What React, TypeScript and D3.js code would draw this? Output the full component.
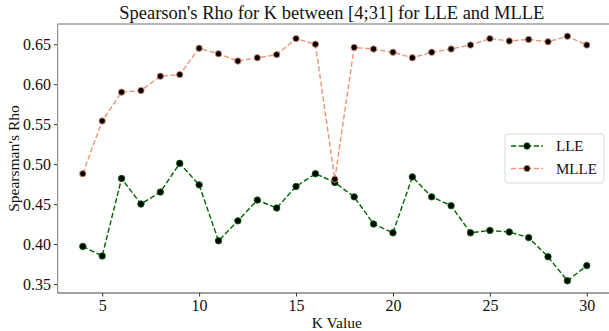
import React, {useEffect, useRef} from "react";
import * as d3 from "d3";

const kValues = [4, 5, 6, 7, 8, 9, 10, 11, 12, 13, 14, 15, 16, 17, 18, 19, 20, 21, 22, 23, 24, 25, 26, 27, 28, 29, 30];
const lleRho = [0.397, 0.385, 0.482, 0.450, 0.465, 0.501, 0.474, 0.404, 0.429, 0.455, 0.445, 0.472, 0.488, 0.477,
    0.459, 0.425, 0.414, 0.484, 0.459, 0.448, 0.414, 0.417, 0.415, 0.408, 0.384, 0.354, 0.373];
const mlleRho = [0.488, 0.554, 0.590, 0.592, 0.610, 0.612, 0.645, 0.638, 0.629, 0.633, 0.637, 0.657, 0.650, 0.481,
    0.646, 0.644, 0.640, 0.633, 0.640, 0.644, 0.649, 0.657, 0.654, 0.656, 0.653, 0.660, 0.649];
const xTicks = [5, 10, 15, 20, 25, 30];
const yTicks = [0.35, 0.40, 0.45, 0.50, 0.55, 0.60, 0.65];
const seriesNames = ["LLE", "MLLE"];
const seriesColors = ["#006400", "#e9967a"];

const FONT = "Liberation Serif";

function draw(node: SVGSVGElement){
    const svg = d3.select(node);
    svg.selectChildren().remove();
    svg.attr("font-family", FONT);

    const left = 57.6, right = 612, top = 24, bottom = 293;

    // matplotlib style 5% margins
    const xpad = (d3.max(kValues)! - d3.min(kValues)!) * 0.05;
    const allY = lleRho.concat(mlleRho);
    const ypad = (d3.max(allY)! - d3.min(allY)!) * 0.05;
    const x = d3.scaleLinear().domain([d3.min(kValues)! - xpad, d3.max(kValues)! + xpad]).range([left, right]);
    const y = d3.scaleLinear().domain([d3.min(allY)! - ypad, d3.max(allY)! + ypad]).range([bottom, top]);

    // title
    svg.append("text")
        .attr("x", (left + right) / 2 - 3)
        .attr("y", 19)
        .attr("text-anchor", "middle")
        .attr("font-size", 18.5)
        .attr("fill", "#111")
        .text("Spearson's Rho for K between [4;31] for LLE and MLLE");

    // x axis
    const xAxis = svg.append("g").attr("transform", `translate(0,${bottom})`)
        .call(d3.axisBottom(x).tickValues(xTicks).tickSize(3.5).tickPadding(3).tickFormat(d3.format("d")))
        .attr("font-family", FONT).attr("font-size", 16);
    xAxis.select(".domain").remove();
    xAxis.selectAll("line").attr("stroke", "#333");
    xAxis.selectAll("text").attr("fill", "#111");

    // y axis
    const yAxis = svg.append("g").attr("transform", `translate(${left},0)`)
        .call(d3.axisLeft(y).tickValues(yTicks).tickSize(3.5).tickPadding(3).tickFormat(d3.format(".2f")))
        .attr("font-family", FONT).attr("font-size", 16);
    yAxis.select(".domain").remove();
    yAxis.selectAll("line").attr("stroke", "#333");
    yAxis.selectAll("text").attr("fill", "#111");

    // spines
    svg.append("line").attr("x1", left).attr("x2", right).attr("y1", top).attr("y2", top)
        .attr("stroke", "#a0a0a0").attr("stroke-width", 1.5);
    svg.append("line").attr("x1", left).attr("x2", left).attr("y1", top).attr("y2", bottom)
        .attr("stroke", "#909090").attr("stroke-width", 1.2);
    svg.append("line").attr("x1", left).attr("x2", right).attr("y1", bottom).attr("y2", bottom)
        .attr("stroke", "#444").attr("stroke-width", 1.2);

    // axis labels
    svg.append("text")
        .attr("x", (left + right) / 2 + 2)
        .attr("y", 328)
        .attr("text-anchor", "middle")
        .attr("font-size", 15.5).attr("fill", "#111")
        .text("K Value");
    svg.append("text")
        .attr("transform", `translate(19,${(top + bottom) / 2}) rotate(-90)`)
        .attr("text-anchor", "middle")
        .attr("font-size", 15.5).attr("fill", "#111")
        .text("Spearsman's Rho");

    const line = d3.line<number>()
        .x((d, i) => x(kValues[i]))
        .y(d => y(d));

    [lleRho, mlleRho].forEach((vals, s) => {
        const g = svg.append("g");
        g.append("path")
            .attr("d", line(vals))
            .attr("fill", "none")
            .attr("stroke", seriesColors[s])
            .attr("stroke-width", 1.4)
            .attr("stroke-dasharray", "5.2,2.4");
        g.selectAll("circle")
            .data(vals)
            .enter()
                .append("circle")
                    .attr("cx", (d, i) => x(kValues[i]))
                    .attr("cy", d => y(d))
                    .attr("r", 3.2)
                    .attr("fill", "black")
                    .attr("stroke", seriesColors[s])
                    .attr("stroke-width", 0.9);
    });

    // legend
    const lg = svg.append("g");
    lg.append("rect")
        .attr("x", 505).attr("y", 134).attr("width", 99).attr("height", 49)
        .attr("rx", 3)
        .attr("fill", "white").attr("fill-opacity", 0.8)
        .attr("stroke", "#d9d9d9").attr("stroke-width", 1);
    seriesNames.forEach((name, s) => {
        const cy = 146 + s * 22.5;
        lg.append("line")
            .attr("x1", 511).attr("x2", 543).attr("y1", cy).attr("y2", cy)
            .attr("stroke", seriesColors[s]).attr("stroke-width", 1.4)
            .attr("stroke-dasharray", "5.2,2.4");
        lg.append("circle")
            .attr("cx", 527).attr("cy", cy).attr("r", 3.2)
            .attr("fill", "black").attr("stroke", seriesColors[s]).attr("stroke-width", 0.9);
        lg.append("text")
            .attr("x", 556).attr("y", cy + 5.3)
            .attr("font-size", 15).attr("fill", "#111")
            .text(name);
    });
}

export default function App(){
    const ref = useRef<SVGSVGElement>(null);
    useEffect(() => {
        if(ref.current) draw(ref.current);
    });
    return <svg ref={ref} width={609} height={331}
                style={{position: "absolute", left: 0, top: 0, background: "white"}}></svg>;
}
